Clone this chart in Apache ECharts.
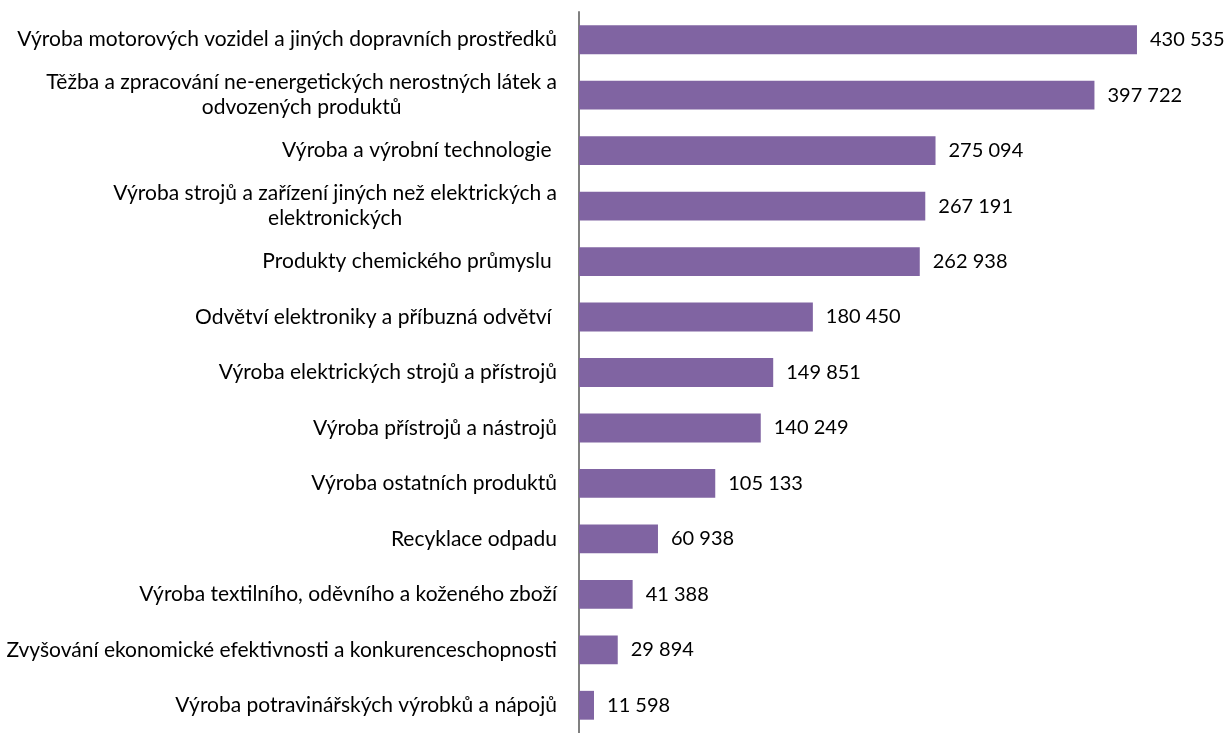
<!DOCTYPE html>
<html><head><meta charset="utf-8">
<script src="https://cdn.jsdelivr.net/npm/echarts@6/dist/echarts.min.js"></script>
<style>html,body{margin:0;padding:0;background:#fff}#c{width:1228px;height:733px}</style>
</head><body><div id="c"></div>
<script>
const categories = [
  "Výroba motorových vozidel a jiných dopravních prostředků",
  "Těžba a zpracování ne-energetických nerostných látek a\nodvozených produktů",
  "Výroba a výrobní technologie ",
  "Výroba strojů a zařízení jiných než elektrických a\nelektronických",
  "Produkty chemického průmyslu ",
  "Odvětví elektroniky a příbuzná odvětví ",
  "Výroba elektrických strojů a přístrojů",
  "Výroba přístrojů a nástrojů",
  "Výroba ostatních produktů",
  "Recyklace odpadu",
  "Výroba textilního, oděvního a koženého zboží",
  "Zvyšování ekonomické efektivnosti a konkurenceschopnosti",
  "Výroba potravinářských výrobků a nápojů"
];
const values = [430535, 397722, 275094, 267191, 262938, 180450, 149851, 140249, 105133, 60938, 41388, 29894, 11598];

const fmt = v => String(v).replace(/\B(?=(\d{3})+(?!\d))/g, ' ');
const FONT = 'Lato';
const chart = echarts.init(document.getElementById('c'));
chart.setOption({
  animation: false,
  grid: {left: 579, right: 1, top: 12, bottom: -10, containLabel: false},
  xAxis: {type: 'value', min: 0, max: 500000, show: false},
  yAxis: {
    type: 'category', data: categories, inverse: true,
    axisLine: {show: true, lineStyle: {color: '#808080', width: 2}},
    axisTick: {show: false},
    axisLabel: {margin: 22, color: '#000', fontFamily: FONT, fontSize: 21, lineHeight: 25, align: 'right',
      formatter: v => v.split('\n').map(s => '{c|' + s + '}').join('\n'),
      rich: {c: {align: 'center', color: '#000', fontFamily: FONT, fontSize: 21, lineHeight: 25}}}
  },
  series: [{
    type: 'bar', data: values, barWidth: '52%',
    itemStyle: {color: '#8064A2'},
    label: {show: true, position: 'right', distance: 13, color: '#000', fontFamily: FONT, fontSize: 20,
      formatter: p => fmt(p.value)}
  }]
});
</script></body></html>
